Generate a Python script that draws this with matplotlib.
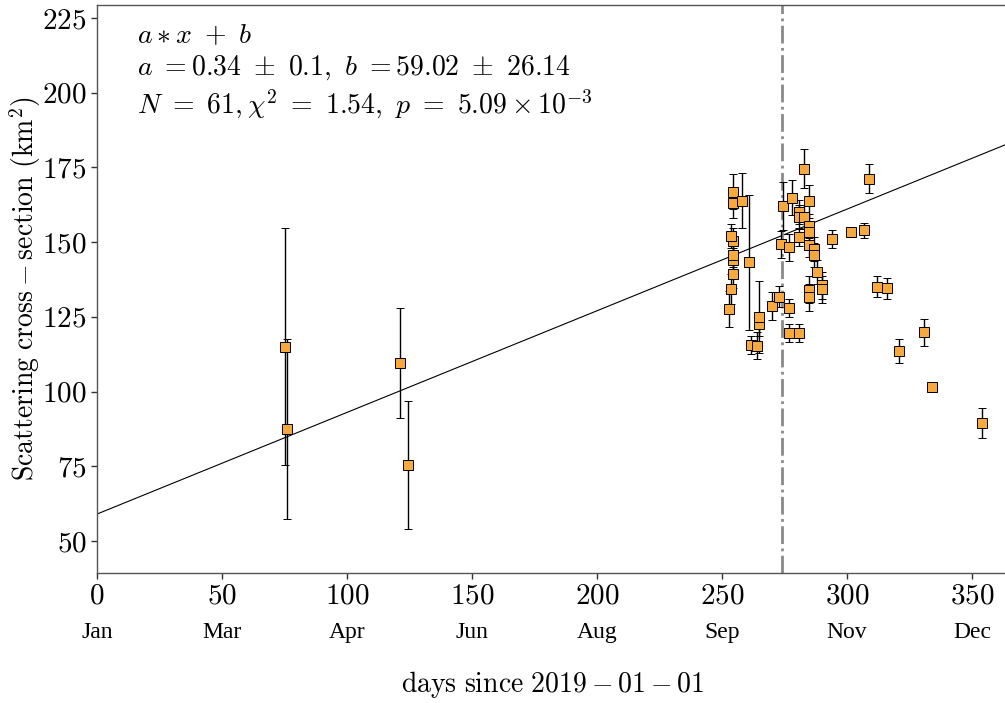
import numpy as np
import matplotlib
matplotlib.use("Agg")
import matplotlib.pyplot as plt

plt.rcParams["mathtext.fontset"] = "cm"
plt.rcParams["font.family"] = "cmr10"
plt.rcParams["axes.unicode_minus"] = False
plt.rcParams["axes.formatter.use_mathtext"] = True

# cross-section measurements: day of year, value (km^2), 1-sigma error
days = [75.2, 76.0, 121.2, 124.4,
        252.8, 253.6, 254.5, 254.5, 254.5, 254.2, 253.6, 254.5, 254.5,
        257.9, 260.8, 261.5, 263.9, 264.8, 264.8, 269.9, 272.8, 273.6,
        274.5, 276.8, 276.8, 276.8, 277.9, 280.8, 280.8, 280.9, 280.8,
        282.9, 282.9, 284.8, 284.9, 284.9, 284.9, 284.8, 284.8, 286.9,
        286.9, 287.9, 289.9, 289.9, 293.9, 301.6, 306.9, 308.9, 311.9,
        316.0, 320.8, 330.9, 334.0, 354.0]
sigma = [115.0, 87.5, 109.6, 75.4,
         127.5, 134.2, 139.3, 144.0, 145.7, 150.2, 152.0, 163.0, 166.9,
         163.9, 143.2, 115.6, 115.3, 122.6, 125.0, 128.7, 131.7, 149.3,
         162.1, 148.2, 127.9, 119.5, 164.9, 119.5, 160.2, 158.3, 151.6,
         174.6, 158.3, 163.7, 155.4, 153.2, 149.0, 134.0, 131.5, 147.6,
         145.7, 139.9, 135.6, 134.2, 151.1, 153.2, 153.9, 171.2, 135.1,
         134.6, 113.7, 119.8, 101.5, 89.4]
sigma_err = [39.6, 30.0, 18.3, 21.5,
             6.0, 5.0, 4.5, 4.0, 4.0, 4.5, 4.0, 5.0, 6.0,
             9.3, 22.6, 3.0, 4.5, 4.0, 12.0, 4.7, 3.5, 4.5,
             8.0, 4.5, 3.0, 3.0, 6.0, 3.0, 4.0, 4.0, 3.0,
             6.5, 4.0, 5.5, 4.0, 4.0, 4.0, 4.5, 4.5, 4.0,
             4.0, 4.0, 4.5, 4.5, 3.0, 1.5, 2.5, 4.8, 3.5,
             3.5, 4.0, 4.5, 1.5, 5.0]

# linear fit result
a_fit, a_err = 0.34, 0.1
b_fit, b_err = 59.02, 26.14
n_pts, chi2, p_val = 61, 1.54, 5.09e-3
t_event = 274

tick_days = [0, 50, 100, 150, 200, 250, 300, 350]
month_names = ["Jan", "Mar", "Apr", "Jun", "Aug", "Sep", "Nov", "Dec"]
y_ticks = [50, 75, 100, 125, 150, 175, 200, 225]

fig = plt.figure(figsize=(10.05, 7.03), dpi=100)
# right edge of the axes runs past the canvas on purpose
ax = fig.add_axes([97 / 1005, 130 / 703, 912.5 / 1005, 568 / 703])

xf = np.linspace(0, 370, 2)
ax.plot(xf, a_fit * xf + b_fit, color="black", lw=0.8, zorder=1)
ax.axvline(t_event, color="#8a8a8a", lw=2.0, ls="-.", zorder=2)
ax.errorbar(days, sigma, yerr=sigma_err, fmt="s", ms=7.8,
            mfc="#f8a93a", mec="black", mew=0.7,
            ecolor="black", elinewidth=1.0, capsize=3, capthick=1.8, zorder=3)

ax.set_xlim(0, 365)
ax.set_ylim(39.3, 229.3)
ax.set_xticks(tick_days)
ax.set_xticklabels([f"${d}$" for d in tick_days])
ax.set_yticks(y_ticks)
ax.set_yticklabels([f"${v}$" for v in y_ticks])
ax.tick_params(direction="out", length=4, width=1, labelsize=21, color="#333333")
ax.tick_params(axis="x", pad=3)

for s in ["left", "top", "bottom"]:
    ax.spines[s].set_color("#555555")
    ax.spines[s].set_linewidth(1.0)
ax.spines["right"].set_visible(False)

# month names under the day numbers
sec = ax.secondary_xaxis("bottom")
sec.set_xticks(tick_days)
sec.set_xticklabels(month_names, fontfamily="Liberation Serif", fontsize=17)
sec.tick_params(length=0, pad=35)
sec.spines["bottom"].set_visible(False)

ax.set_xlabel(r"$\mathrm{days\ since\ 2019-01-01}$", fontsize=20, labelpad=43)
ax.set_ylabel(r"$\mathrm{Scattering\ cross-section\ (km^2)}$", fontsize=20, labelpad=-1)

fit_text = (r"$a\ast x\ +\ b$" "\n"
            rf"$a\ ={a_fit}\ \pm\ {a_err},\ b\ ={b_fit}\ \pm\ {b_err}$" "\n"
            rf"$N\ =\ {n_pts},\chi^2\ =\ {chi2},\ p\ =\ 5.09\times10^{{-3}}$")
ax.text(0.044, 0.968, fit_text, transform=ax.transAxes, va="top", ha="left",
        fontsize=20, linespacing=1.2)

fig.savefig("out.png", dpi=100)
